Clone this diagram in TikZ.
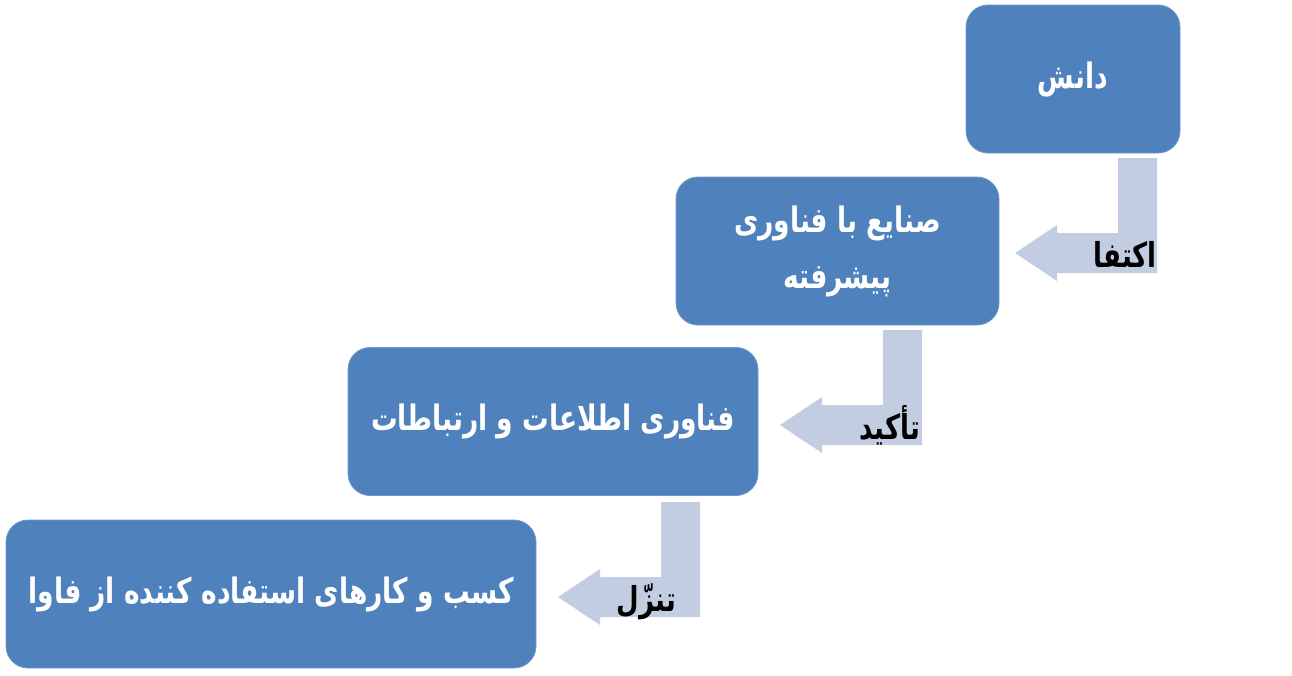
\documentclass[tikz,border=0pt]{standalone}
\usepackage{fontspec}
\usepackage{graphicx}
\newfontfamily\arabicfont[Script=Arabic]{DejaVu Sans}
\TeXXeTstate=1
\definecolor{boxblue}{HTML}{4F81BD}
\definecolor{boxrim}{HTML}{6F97C8}
\definecolor{arrowgray}{HTML}{C3CDE2}
\newcommand\ptxt[1]{\scalebox{1}[1.32]{\beginR #1\endR}}
\newcommand\bentarr[1]{\fill[bentarrow] (#1) -- ++(42,-28) -- ++(0,8) -- ++(61,0) -- ++(0,-75) -- ++(39,0) -- ++(0,115) -- ++(-100,0) -- ++(0,8) -- cycle;}
\begin{document}
\begin{tikzpicture}[x=1pt,y=-1pt,
  stepbox/.style={draw=boxrim, line width=0.8pt, fill=boxblue, rounded corners=22pt,
    inner sep=0pt, minimum height=148pt, text=white,
    font=\arabicfont\bfseries\fontsize{26.5}{56}\selectfont, align=center},
  bentarrow/.style={fill=arrowgray},
  arrowlabel/.style={font=\arabicfont\bfseries\fontsize{26}{34}\selectfont, text=black, inner sep=0pt}]
\useasboundingbox (0,0) rectangle (1292,675);
\node[stepbox, minimum width=214pt] (b1) at (1073,79) {\ptxt{دانش}};
\node[stepbox, minimum width=323pt] (b2) at (837.5,251) {\ptxt{صنایع با فناوری}\\\ptxt{پیشرفته}};
\node[stepbox, minimum width=410pt] (b3) at (553,421.5) {\ptxt{فناوری اطلاعات و ارتباطات}};
\node[stepbox, minimum width=530pt] (b4) at (271,594) {\ptxt{کسب و کارهای استفاده کننده از فاوا}};
\coordinate (t1) at (1015,253);
\coordinate (t2) at (780,425);
\coordinate (t3) at (558,597);
\bentarr{t1}
\bentarr{t2}
\bentarr{t3}
\node[arrowlabel, anchor=base east] (l1) at (1157,267) {\ptxt{اکتفا}};
\node[arrowlabel, anchor=base east] (l2) at (920,439) {\ptxt{تأکید}};
\node[arrowlabel, anchor=base east] (l3) at (676,611) {\ptxt{تنزّل}};
\end{tikzpicture}
\end{document}
